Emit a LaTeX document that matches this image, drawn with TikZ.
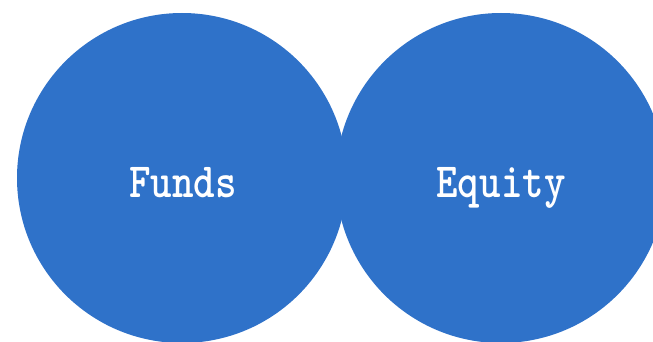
\documentclass[tikz,border=0pt]{standalone}
\definecolor{circblue}{RGB}{47,114,201}
\begin{document}
\begin{tikzpicture}[x=1pt,y=1pt,
  circ/.style={circle,fill=circblue,minimum size=330pt,inner sep=0pt},
  lbl/.style={text=white,anchor=base,inner sep=0pt,font=\ttfamily\bfseries\fontsize{41}{41}\selectfont,yscale=1.2}]
\useasboundingbox (0,0) rectangle (653,341);
\clip (0,0) rectangle (653,341);
\node[circ] (funds) at (182,163) {};
\node[circ] (equity) at (501,163) {};
\node[lbl] (fundst) at (183,144) {Funds};
\node[lbl] (equityt) at (501,144) {Equity};
\end{tikzpicture}
\end{document}
